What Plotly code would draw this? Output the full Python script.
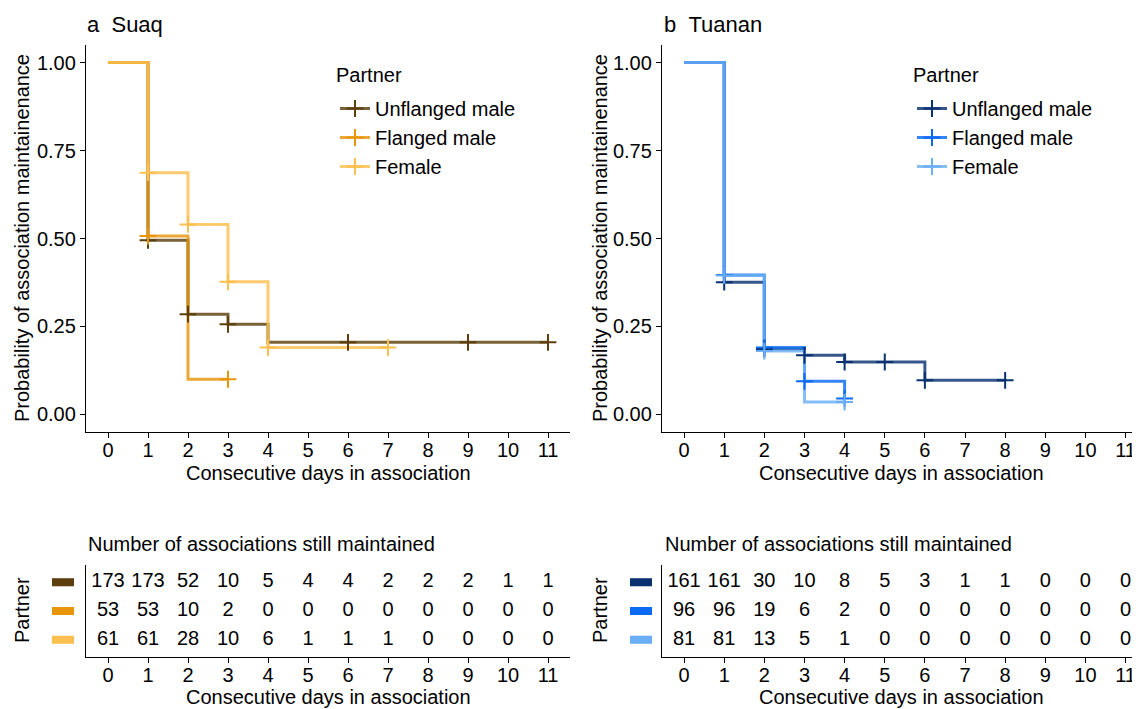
import plotly.graph_objects as go

# page body has an 8px margin: figure is sized to fill the rest of the 1140x709 window
OFF = 8
W, H = 1140 - OFF, 709 - OFF
FONT = "Liberation Sans, Arial, Helvetica, sans-serif"
FS = 20


def px(x):
    return (x - OFF) / W


def py(y):
    return 1 - (y - OFF) / H


# ---------------- data ----------------
partners = ["Unflanged male", "Flanged male", "Female"]

# Suaq (panel a)
suaq_times = {
    "Unflanged male": [0, 1, 2, 3, 4, 11],
    "Flanged male": [0, 1, 2, 3],
    "Female": [0, 1, 2, 3, 4, 7],
}
suaq_surv = {
    "Unflanged male": [1.0, 0.495, 0.285, 0.256, 0.205, 0.205],
    "Flanged male": [1.0, 0.507, 0.100, 0.100],
    "Female": [1.0, 0.687, 0.540, 0.377, 0.190, 0.190],
}
suaq_censor = {
    "Unflanged male": [1, 2, 3, 6, 9, 11],
    "Flanged male": [1, 3],
    "Female": [1, 2, 3, 4, 7],
}
suaq_risk = {
    "Unflanged male": [173, 173, 52, 10, 5, 4, 4, 2, 2, 2, 1, 1],
    "Flanged male": [53, 53, 10, 2, 0, 0, 0, 0, 0, 0, 0, 0],
    "Female": [61, 61, 28, 10, 6, 1, 1, 1, 0, 0, 0, 0],
}

# Tuanan (panel b)
tuanan_times = {
    "Unflanged male": [0, 1, 2, 3, 4, 6, 8],
    "Flanged male": [0, 1, 2, 3, 4],
    "Female": [0, 1, 2, 3, 4],
}
tuanan_surv = {
    "Unflanged male": [1.0, 0.376, 0.186, 0.168, 0.149, 0.097, 0.097],
    "Flanged male": [1.0, 0.396, 0.190, 0.094, 0.045],
    "Female": [1.0, 0.395, 0.180, 0.035, 0.035],
}
tuanan_censor = {
    "Unflanged male": [1, 2, 3, 4, 5, 6, 8],
    "Flanged male": [1, 2, 3, 4],
    "Female": [1, 2, 4],
}
tuanan_risk = {
    "Unflanged male": [161, 161, 30, 10, 8, 5, 3, 1, 1, 0, 0, 0],
    "Flanged male": [96, 96, 19, 6, 2, 0, 0, 0, 0, 0, 0, 0],
    "Female": [81, 81, 13, 5, 1, 0, 0, 0, 0, 0, 0, 0],
}

days = list(range(12))
y_ticks = [0.0, 0.25, 0.5, 0.75, 1.0]
y_ticklabels = ["0.00", "0.25", "0.50", "0.75", "1.00"]

suaq_colors = {"Unflanged male": (92, 63, 12), "Flanged male": (232, 149, 10), "Female": (253, 191, 79)}
tuanan_colors = {"Unflanged male": (10, 50, 112), "Flanged male": (10, 106, 245), "Female": (106, 174, 248)}


def rgba(c, a):
    return f"rgba({c[0]},{c[1]},{c[2]},{a})"


def step_value(times, surv, t):
    v = surv[0]
    for ti, si in zip(times, surv):
        if ti <= t:
            v = si
    return v


fig = go.Figure()

panels = [
    ("x", "y", "x3", "y3", suaq_times, suaq_surv, suaq_censor, suaq_risk, suaq_colors, "legend"),
    ("x2", "y2", "x4", "y4", tuanan_times, tuanan_surv, tuanan_censor, tuanan_risk, tuanan_colors, "legend2"),
]

row_pos = {"Unflanged male": 3, "Flanged male": 2, "Female": 1}
MSIZE = 12

for (xa, ya, xt, yt, times, surv, cens, risk, cols, leg) in panels:
    for p in partners:
        c = cols[p]
        fig.add_trace(go.Scatter(
            x=times[p], y=surv[p], mode="lines", line=dict(color=rgba(c, 0.82), width=3, shape="hv"),
            xaxis=xa, yaxis=ya, showlegend=False, hoverinfo="skip"))
    for p in partners:
        c = cols[p]
        cy = [step_value(times[p], surv[p], t) for t in cens[p]]
        fig.add_trace(go.Scatter(
            x=cens[p], y=cy, mode="markers",
            marker=dict(symbol="cross-thin", size=MSIZE, line=dict(color=rgba(c, 1), width=2)),
            xaxis=xa, yaxis=ya, showlegend=False, hoverinfo="skip"))
    # legend entries
    for p in partners:
        c = cols[p]
        fig.add_trace(go.Scatter(
            x=[None], y=[None], mode="lines+markers", name=p,
            line=dict(color=rgba(c, 0.82), width=3),
            marker=dict(symbol="cross-thin", size=MSIZE, line=dict(color=rgba(c, 1), width=2)),
            xaxis=xa, yaxis=ya, legend=leg, legendgroup=leg + p, showlegend=True))
    # risk table
    for p in partners:
        fig.add_trace(go.Scatter(
            x=days, y=[row_pos[p]] * len(days), mode="text", text=[str(v) for v in risk[p]],
            textfont=dict(family=FONT, size=FS, color="black"), textposition="middle center",
            xaxis=xt, yaxis=yt, showlegend=False, hoverinfo="skip", cliponaxis=False))

# ---------------- layout ----------------
xa_dom = [px(86), px(570)]
xb_dom = [px(662), 1.0]
main_dom = [py(432), py(45)]
tab_dom = [py(657), py(565)]

axis_common = dict(showline=True, linecolor="black", linewidth=1.3, ticks="outside", ticklen=5,
                   tickwidth=1.2, tickcolor="black", showgrid=False, zeroline=False,
                   tickfont=dict(family=FONT, size=FS, color="black"))

xticks = dict(tickmode="array", tickvals=days, ticktext=[str(d) for d in days], ticklabelstandoff=-5)

legend_common = dict(xanchor="left", yanchor="top", bgcolor="rgba(0,0,0,0)",
                     font=dict(family=FONT, size=FS), tracegroupgap=0, itemwidth=30)

fig.update_layout(
    width=W, height=H, margin=dict(l=0, r=0, t=0, b=0),
    plot_bgcolor="white", paper_bgcolor="white",
    font=dict(family=FONT, size=FS, color="black"),
    xaxis=dict(domain=xa_dom, range=[-0.55, 11.55], anchor="y", **xticks, **axis_common),
    yaxis=dict(domain=main_dom, range=[-0.05, 1.05], anchor="x", tickmode="array", tickvals=y_ticks,
               ticktext=y_ticklabels, **axis_common),
    xaxis2=dict(domain=xb_dom, range=[-0.55, 11.36], anchor="y2", **xticks, **axis_common),
    yaxis2=dict(domain=main_dom, range=[-0.05, 1.05], anchor="x2", tickmode="array", tickvals=y_ticks,
                ticktext=y_ticklabels, **axis_common),
    xaxis3=dict(domain=xa_dom, range=[-0.55, 11.55], anchor="y3", **xticks, **axis_common),
    yaxis3=dict(domain=tab_dom, range=[0.4, 3.6], anchor="x3", showticklabels=False,
                showline=True, linecolor="black", linewidth=1.3, ticks="", showgrid=False, zeroline=False),
    xaxis4=dict(domain=xb_dom, range=[-0.55, 11.36], anchor="y4", **xticks, **axis_common),
    yaxis4=dict(domain=tab_dom, range=[0.4, 3.6], anchor="x4", showticklabels=False,
                showline=True, linecolor="black", linewidth=1.3, ticks="", showgrid=False, zeroline=False),
    legend=dict(x=px(335), y=py(89), **legend_common),
    legend2=dict(x=px(912), y=py(89), **legend_common),
)

ann = []
# panel titles
ann.append(dict(text="a\u00a0\u00a0Suaq", x=px(85), y=py(24), xref="paper", yref="paper",
                xanchor="left", yanchor="middle", showarrow=False, font=dict(family=FONT, size=22)))
ann.append(dict(text="b\u00a0\u00a0Tuanan", x=px(662), y=py(24), xref="paper", yref="paper",
                xanchor="left", yanchor="middle", showarrow=False, font=dict(family=FONT, size=22)))
# legend titles
ann.append(dict(text="Partner", x=px(334), y=py(75), xref="paper", yref="paper",
                xanchor="left", yanchor="middle", showarrow=False, font=dict(family=FONT, size=FS)))
ann.append(dict(text="Partner", x=px(911), y=py(75), xref="paper", yref="paper",
                xanchor="left", yanchor="middle", showarrow=False, font=dict(family=FONT, size=FS)))
# y titles
for xpix in (22, 600):
    ann.append(dict(text="Probability of association maintainenance", x=px(xpix), y=py(238),
                    xref="paper", yref="paper", textangle=-90, xanchor="center", yanchor="middle",
                    showarrow=False, font=dict(family=FONT, size=FS)))
    ann.append(dict(text="Partner", x=px(xpix), y=py(610), xref="paper", yref="paper",
                    textangle=-90, xanchor="center", yanchor="middle", showarrow=False,
                    font=dict(family=FONT, size=FS)))
# x titles
for xr in ("x domain", "x2 domain"):
    ann.append(dict(text="Consecutive days in association", x=0.5, y=py(473), xref=xr, yref="paper",
                    xanchor="center", yanchor="middle", showarrow=False, font=dict(family=FONT, size=FS)))
for xr in ("x3 domain", "x4 domain"):
    ann.append(dict(text="Consecutive days in association", x=0.5, y=py(697), xref=xr, yref="paper",
                    xanchor="center", yanchor="middle", showarrow=False, font=dict(family=FONT, size=FS)))
# table titles
for xpix in (86, 663):
    ann.append(dict(text="Number of associations still maintained", x=px(xpix), y=py(544),
                    xref="paper", yref="paper", xanchor="left", yanchor="middle", showarrow=False,
                    font=dict(family=FONT, size=FS)))
fig.update_layout(annotations=ann)

# colour swatches as row labels of the risk tables
shapes = []
for xl, yr, cols in ((52, "y3", suaq_colors), (630, "y4", tuanan_colors)):
    for p in partners:
        r = row_pos[p]
        shapes.append(dict(type="rect", xref="paper", yref=yr, x0=px(xl), x1=px(xl + 22),
                           y0=r - 0.14, y1=r + 0.14, fillcolor=rgba(cols[p], 1), line=dict(width=0)))
fig.update_layout(shapes=shapes)

fig.write_html("out.html")
